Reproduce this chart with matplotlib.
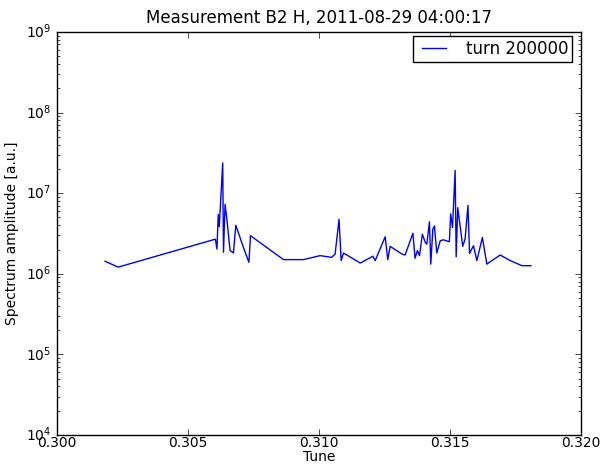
import matplotlib
matplotlib.use("Agg")
import matplotlib.pyplot as plt

# tune spectrum, beam 2 horizontal, turn 200000
tune = [0.30183, 0.30233, 0.30604, 0.30610, 0.30615, 0.30619, 0.30632, 0.30635,
        0.30641, 0.30648, 0.30660, 0.30673, 0.30682, 0.30711, 0.30732, 0.30738,
        0.30864, 0.30940, 0.31004, 0.31048, 0.31061, 0.31076, 0.31084, 0.31093,
        0.31157, 0.31205, 0.31214, 0.31252, 0.31262, 0.31271, 0.31316, 0.31328,
        0.31358, 0.31366, 0.31375, 0.31383, 0.31394, 0.31405, 0.31411, 0.31421,
        0.31426, 0.31434, 0.31440, 0.31449, 0.31462, 0.31474, 0.31497, 0.31502,
        0.31509, 0.31519, 0.31523, 0.31529, 0.31548, 0.31557, 0.31568, 0.31574,
        0.31589, 0.31602, 0.31623, 0.31640, 0.31691, 0.31729, 0.31774, 0.31808]
amplitude = [1.43e6, 1.21e6, 2.69e6, 2.03e6, 5.47e6, 3.85e6, 2.37e7, 1.85e6,
             7.26e6, 4.74e6, 1.95e6, 1.81e6, 4.00e6, 2.13e6, 1.39e6, 2.97e6,
             1.50e6, 1.50e6, 1.68e6, 1.60e6, 1.76e6, 4.74e6, 1.46e6, 1.81e6,
             1.36e6, 1.65e6, 1.46e6, 2.88e6, 1.50e6, 2.19e6, 1.76e6, 1.71e6,
             3.19e6, 1.56e6, 1.94e6, 1.68e6, 3.10e6, 2.45e6, 2.33e6, 4.41e6,
             1.32e6, 3.57e6, 3.93e6, 1.81e6, 2.57e6, 2.64e6, 2.50e6, 5.55e6,
             3.75e6, 1.92e7, 1.63e6, 6.61e6, 2.19e6, 2.69e6, 7.06e6, 1.79e6,
             2.23e6, 1.46e6, 2.82e6, 1.32e6, 1.71e6, 1.46e6, 1.26e6, 1.26e6]

xticks = [0.300, 0.305, 0.310, 0.315, 0.320]

plt.style.use('classic')
plt.rcParams['font.family'] = ['DejaVu Sans']

fig = plt.figure(figsize=(6.01, 4.67), dpi=100, facecolor='white')
ax = fig.add_axes([0.095, 0.0685, 0.872, 0.863])

ax.semilogy(tune, amplitude, 'b-', lw=1.0, label='turn 200000')
ax.set_xlim(0.300, 0.320)
ax.set_ylim(1e4, 1e9)
ax.set_xticks(xticks)
ax.set_xticklabels(['%.3f' % t for t in xticks])
ax.tick_params(labelsize=10)
ax.tick_params(axis='x', pad=1)

ax.set_xlabel('Tune', fontsize=10, labelpad=0)
ax.set_ylabel('Spectrum amplitude [a.u.]', fontsize=10)
ax.set_title('Measurement B2 H, 2011-08-29 04:00:17', fontsize=12, y=1.005)
ax.legend(loc='upper right', bbox_to_anchor=(0.983, 0.99), borderaxespad=0,
          fontsize=12, numpoints=2, handlelength=2.0, handletextpad=0.9,
          borderpad=0.25)

fig.savefig('out.png', dpi=100, facecolor='white')
